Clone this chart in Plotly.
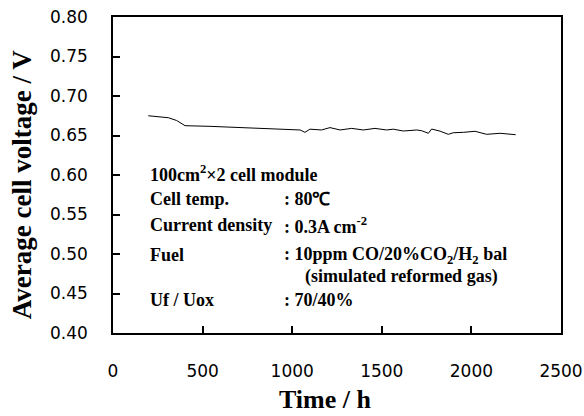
import plotly.graph_objects as go

# Average cell voltage over operating time
time_h = [197, 309, 355, 402, 541, 727, 857, 1044, 1071, 1099, 1164, 1211, 1267,
          1332, 1397, 1462, 1527, 1564, 1620, 1695, 1723, 1760, 1778, 1825, 1871,
          1899, 1955, 2020, 2085, 2160, 2247]
voltage_v = [0.675, 0.6725, 0.669, 0.6624, 0.6616, 0.660, 0.659, 0.657, 0.654, 0.658,
             0.657, 0.660, 0.657, 0.659, 0.657, 0.659, 0.657, 0.658, 0.6557, 0.657,
             0.656, 0.6528, 0.6582, 0.6555, 0.6515, 0.6535, 0.654, 0.6553, 0.6515,
             0.6528, 0.651]

x_ticks = [0, 500, 1000, 1500, 2000, 2500]
y_ticks = [0.40, 0.45, 0.50, 0.55, 0.60, 0.65, 0.70, 0.75, 0.80]

# Operating conditions block: (label, value, value x-position, row y-position)
cond_labels = ["100cm<sup>2</sup>×2 cell module", "Cell temp.", "Current density",
               "Fuel", "", "Uf / Uox"]
cond_values = ["", ": 80℃", ": 0.3A cm<sup>-2</sup>",
               ": 10ppm CO/20%CO<sub>2</sub>/H<sub>2</sub> bal",
               "(simulated reformed gas)", ": 70/40%"]
cond_value_x = [943, 943, 943, 943, 1060, 943]
cond_y = [0.6025, 0.5696, 0.5367, 0.4987, 0.4709, 0.4418]

serif = "Liberation Serif, Times New Roman, serif"
sans = "DejaVu Sans, Arial, sans-serif"

fig = go.Figure()
fig.add_trace(go.Scatter(x=time_h, y=voltage_v, mode="lines",
                         line=dict(color="black", width=1), showlegend=False))

text_font = dict(family=serif, size=18, color="black", weight="bold")
annotations = []
for lab, val, vx, yy in zip(cond_labels, cond_values, cond_value_x, cond_y):
    if lab:
        annotations.append(dict(x=195, y=yy, xref="x", yref="y", text=lab,
                                showarrow=False, xanchor="left", yanchor="middle",
                                align="left", font=text_font))
    if val:
        annotations.append(dict(x=vx, y=yy, xref="x", yref="y", text=val,
                                showarrow=False, xanchor="left", yanchor="middle",
                                align="left", font=text_font))

annotations.append(dict(x=0.475, y=-0.212, xref="paper", yref="paper",
                        text="Time / h", showarrow=False,
                        xanchor="center", yanchor="middle",
                        font=dict(family=serif, size=26, color="black", weight="bold")))
annotations.append(dict(x=-0.203, y=0.468, xref="paper", yref="paper",
                        text="Average cell voltage / V", showarrow=False,
                        textangle=-90, xanchor="center", yanchor="middle",
                        font=dict(family=serif, size=27, color="black", weight="bold")))

fig.update_layout(
    width=584, height=416,
    margin=dict(l=113, r=23, t=17, b=83),
    paper_bgcolor="white", plot_bgcolor="white",
    annotations=annotations,
    xaxis=dict(range=[0, 2500], tickvals=x_ticks, ticktext=[str(v) for v in x_ticks],
               ticks="inside", ticklen=7, tickcolor="black", tickwidth=1.5,
               showline=True, linecolor="black", linewidth=1.5, mirror=True,
               showgrid=False, zeroline=False, ticklabelstandoff=22,
               automargin=False,
               tickfont=dict(family=sans, size=17, color="black")),
    yaxis=dict(range=[0.40, 0.80], tickvals=y_ticks,
               ticktext=[f"{v:.2f}" for v in y_ticks],
               ticks="inside", ticklen=7, tickcolor="black", tickwidth=1.5,
               showline=True, linecolor="black", linewidth=1.5, mirror=True,
               showgrid=False, zeroline=False, ticklabelstandoff=20,
               automargin=False,
               tickfont=dict(family=sans, size=17, color="black")),
)

fig.write_html("out.html")
